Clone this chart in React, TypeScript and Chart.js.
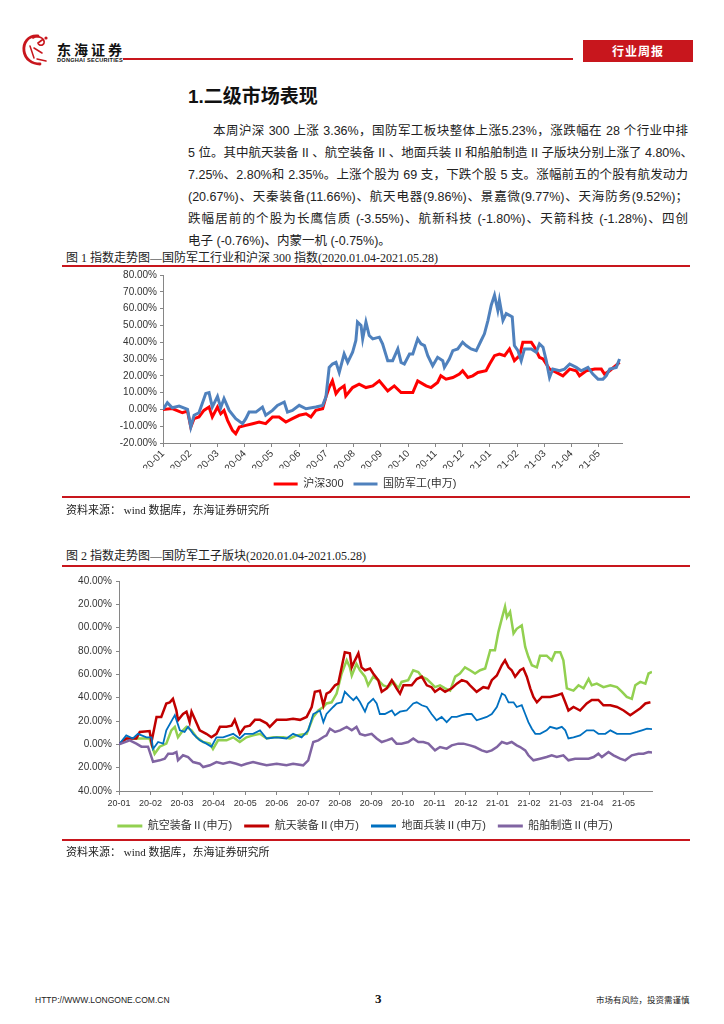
import React, { useEffect, useRef } from "react";
import { Chart, registerables } from "chart.js";

Chart.register(...registerables);

// ---------- tick labels ----------
const monthLabels = [
  "20-01", "20-02", "20-03", "20-04", "20-05", "20-06", "20-07", "20-08", "20-09",
  "20-10", "20-11", "20-12", "21-01", "21-02", "21-03", "21-04", "21-05",
];

// ---------- Figure 1 (x = months since 2020-01-01) ----------
const hs300Months = [0,0.34,0.71,0.9,1.02,1.14,1.32,1.5,1.69,1.81,2.0,2.12,2.24,2.37,2.55,2.67,2.8,3.04,3.29,3.53,3.77,4.02,4.26,4.51,4.75,5.0,5.25,5.43,5.61,5.86,5.98,6.1,6.22,6.35,6.47,6.65,6.71,6.96,7.2,7.45,7.7,7.94,8.25,8.49,8.74,9.17,9.35,9.66,9.84,10.08,10.2,10.39,10.64,10.88,11.0,11.19,11.37,11.56,11.86,11.99,12.17,12.35,12.54,12.72,12.9,13.09,13.21,13.52,13.64,13.82,13.95,14.19,14.44,14.68,14.93,15.17,15.29,15.54,15.85,16.09,16.21,16.4,16.76];
const hs300Values = [0,0.5,-2,-1,-10.5,-5.5,-4.5,-0.6,1.4,-4.5,1.4,-2.6,-0.6,-6.5,-12.5,-14.5,-10.5,-9.5,-8.5,-7.5,-8.5,-4.5,-4.5,-7.5,-5.5,-3.5,-2.6,-4.5,-0.6,0.4,7.3,13,17,9.4,12,14,8,13,15,13,14,17,11,14,10,10,17,14,13,16,20,18,19,21,23,19,20,22,23,27,32,33,32,36,29,32,40,40,37,31,30,24,22,20,24,23,20,23,24,24,21,23,28];

const defenseMonths = [0,0.16,0.34,0.59,0.9,1.02,1.14,1.32,1.57,1.69,1.81,2.0,2.12,2.24,2.43,2.67,2.92,3.04,3.16,3.41,3.65,3.77,4.02,4.2,4.45,4.57,4.75,5.0,5.25,5.61,5.86,5.98,6.1,6.22,6.35,6.47,6.65,6.78,6.96,7.08,7.14,7.27,7.33,7.45,7.57,7.7,7.94,8.06,8.25,8.43,8.62,8.74,8.86,9.05,9.17,9.35,9.47,9.6,9.72,9.9,10.08,10.27,10.33,10.51,10.64,10.82,11.0,11.13,11.31,11.5,11.68,11.8,11.93,12.05,12.17,12.29,12.35,12.48,12.6,12.72,12.82,12.9,13.03,13.15,13.27,13.52,13.7,13.82,13.95,14.07,14.19,14.31,14.56,14.74,14.93,15.17,15.35,15.6,15.78,15.97,16.15,16.27,16.4,16.64,16.76];
const defenseValues = [0,4,1,2,0,-10.5,-3.5,-2,9.5,10,1.4,7.7,1,6.5,-0.6,-5.5,-8.5,-5.5,-1.6,-1.6,1.4,-3.5,-0.6,2.4,4.4,-1.6,-0.6,2.4,0.4,1.4,2.4,7.3,25,27,28,22,33,28,34,41,52,50,42,52,44,42,43,39,29,29,36,28,27,33,33,42,39,38,32,26,31,29,25,30,35,36,40,38,36,35,41,45,53,62,68,59,65,53,57,56,55,38,35,29,36,36,34,39,37,29,19,24,23,24,27,25,23,25,21,18,18,20,24,25,30];

// ---------- Figure 2 ----------
const aeroMonths = [0,0.23,0.55,0.97,1.13,1.29,1.5,1.66,1.77,1.87,2.03,2.14,2.3,2.46,2.67,2.88,2.98,3.14,3.41,3.62,3.83,4.04,4.25,4.47,4.68,4.89,5.21,5.42,5.63,5.95,6.16,6.32,6.48,6.58,6.74,6.9,7.06,7.22,7.32,7.38,7.53,7.64,7.8,7.9,8.06,8.22,8.38,8.54,8.7,8.86,8.96,9.17,9.33,9.49,9.6,9.76,9.91,10.02,10.18,10.34,10.5,10.66,10.81,10.97,11.13,11.29,11.45,11.61,11.77,11.92,12.03,12.14,12.24,12.3,12.4,12.51,12.61,12.77,12.88,12.98,13.09,13.25,13.35,13.56,13.72,13.83,13.99,14.09,14.2,14.41,14.57,14.73,14.89,14.99,15.15,15.36,15.58,15.79,15.95,16.1,16.26,16.37,16.53,16.69,16.79,16.9];
const aeroValues = [0,5,5,5,-8,-2,0.6,12,15,6,12,15,12,6,2,0.6,-4,3.4,3.4,6,2,6,7.7,9,5,6,6,5,7.7,9,23.5,29,32,35,36,43.5,60.7,72,66,59,69,63.5,58,50.6,58,55,50.6,49,53.5,48,53.5,55,63.5,62,58,56,52,49,50.6,48,46,58,60.7,66,63.5,60.7,63.5,65,80.7,80.7,96.4,108,118,109,113.6,95,99,102,83.5,75,67.8,66,76,76,72,79,79,72,48,46,50.6,48,56,50.6,52,49,50.6,49,45,40.6,39,50.6,53.5,52,60.7,62];

const spaceMonths = [0,0.23,0.55,0.66,0.97,1.03,1.19,1.34,1.5,1.61,1.71,1.82,1.87,2.03,2.14,2.24,2.3,2.4,2.56,2.77,2.93,3.09,3.2,3.41,3.57,3.67,3.83,3.99,4.15,4.31,4.47,4.68,4.78,5.0,5.31,5.52,5.74,5.95,6.11,6.21,6.37,6.48,6.58,6.69,6.85,6.95,7.06,7.16,7.32,7.38,7.48,7.59,7.69,7.8,7.96,8.06,8.22,8.33,8.49,8.65,8.8,8.91,9.02,9.28,9.44,9.6,9.76,9.91,10.02,10.18,10.34,10.55,10.71,10.87,11.03,11.13,11.34,11.55,11.71,11.82,11.98,12.14,12.24,12.35,12.45,12.56,12.72,12.82,12.93,13.04,13.14,13.25,13.41,13.67,13.88,14.04,14.15,14.25,14.41,14.62,14.83,14.99,15.2,15.36,15.58,15.79,16.0,16.21,16.37,16.53,16.69,16.85];
const spaceValues = [0,5,5,10.6,11.4,2,23.5,23.5,35,36,39,29,20.6,26,28,19,28,22,12,9,6,9,15,15,16,21,9,15,16,21,21,18,15,21,21,22,21,23.5,32,45,46,33.5,43.5,45,50.6,52,66,79,78,66,72,78,66,63.5,65,60.7,55,45,48,55,48,43.5,50.6,50.6,56,58,50.6,49,45,48,45,48,52,55,53.5,50.6,45,49,48,55,59,68,72,66,63.5,58,63.5,65,58,48,40.6,36,40.6,40.6,42,43.5,36,29,32,29,35,38,38,33.5,33.5,32,29,25,28,31,35,36];

const groundMonths = [0,0.23,0.44,0.6,0.87,1.03,1.08,1.24,1.4,1.5,1.77,1.93,2.08,2.19,2.35,2.56,2.77,2.93,3.09,3.3,3.62,3.83,3.99,4.25,4.47,4.68,5.0,5.31,5.52,5.79,6.0,6.16,6.37,6.48,6.58,6.79,6.9,7.06,7.16,7.32,7.43,7.53,7.64,7.8,7.9,8.06,8.17,8.27,8.43,8.65,8.75,8.91,9.12,9.33,9.44,9.6,9.76,9.91,10.07,10.23,10.39,10.55,10.71,10.87,11.03,11.18,11.34,11.5,11.66,11.82,11.98,12.14,12.24,12.35,12.51,12.61,12.77,12.88,12.98,13.09,13.2,13.35,13.56,13.67,13.88,14.04,14.15,14.25,14.41,14.62,14.83,15.05,15.2,15.42,15.58,15.79,16.0,16.21,16.42,16.58,16.74,16.9];
const groundValues = [0,7.7,5,9,6,6,-4,2,0.6,12,25,12,10.6,15,9,3.4,0.6,-2,6,6,9,5,9,9,12,5,6,5,9,6,12,26,29,19,26,32,35,36,45,40.6,37.8,40.6,36.3,28,35,39,35,26,26,29,25,28,29,35,36,33.5,32,26,20.6,23.5,19,23.5,23.5,25,26,26,20.6,22,23.5,26,32,43.5,42,36,36,32,33.5,26,19,13.4,9,9,12,15,13.4,15,12,5,6,7.7,12,12,9,9,12,9,9,9,10.6,12,13.4,13];

const shipMonths = [0,0.34,0.55,0.71,0.92,1.08,1.29,1.45,1.56,1.71,1.82,1.87,2.03,2.19,2.35,2.56,2.67,2.88,3.09,3.3,3.51,3.72,3.88,4.04,4.25,4.47,4.68,5.0,5.31,5.52,5.84,6.0,6.16,6.32,6.48,6.58,6.69,6.85,7.01,7.22,7.38,7.53,7.64,7.8,8.01,8.17,8.33,8.49,8.65,8.8,8.96,9.17,9.33,9.49,9.65,9.81,10.02,10.18,10.39,10.55,10.76,10.92,11.13,11.29,11.5,11.66,11.82,11.98,12.14,12.3,12.45,12.61,12.72,12.88,12.98,13.14,13.35,13.56,13.72,13.88,14.09,14.25,14.46,14.68,14.89,15.05,15.2,15.31,15.52,15.68,15.89,16.05,16.26,16.47,16.63,16.79,16.9];
const shipValues = [0,3.4,0.6,-2,-2,-15,-13.7,-12.3,-8,-8,-6.6,-13.7,-9.4,-10.9,-15.2,-16.6,-19.5,-18,-15.2,-16.6,-15.2,-16.6,-18,-16.6,-15.2,-16.6,-18,-16.6,-18,-16.6,-18,-13.7,2,3.4,6.3,7.7,13.4,10.6,12,14.9,12,14.9,9,7.7,9,5,2,3.4,5,0.6,0.6,2,5,2,2,0.6,-5.2,-2.3,-3.7,-0.9,0.6,0.6,-0.9,-2.3,-5.2,-6.6,-5.2,-2.3,2,0.6,2,-0.9,-2.3,-5.2,-9.4,-13.7,-12.3,-10.9,-9.4,-10.9,-9.4,-13.7,-12.3,-12.3,-12.3,-10.9,-8,-10.9,-6.6,-9.4,-12.3,-13.7,-9.4,-8,-8,-6.6,-7];

// ---------- text ----------
const paragraphLines = [
  "本周沪深 300 上涨 3.36%，国防军工板块整体上涨5.23%，涨跌幅在 28 个行业中排",
  "5 位。其中航天装备 II 、航空装备 II 、地面兵装 II 和船舶制造 II 子版块分别上涨了 4.80%、",
  "7.25%、2.80%和 2.35%。上涨个股为 69 支，下跌个股 5 支。涨幅前五的个股有航发动力",
  "(20.67%)、天秦装备(11.66%)、航天电器(9.86%)、景嘉微(9.77%)、天海防务(9.52%)；",
  "跌幅居前的个股为长鹰信质 (-3.55%)、航新科技 (-1.80%)、天箭科技 (-1.28%)、四创",
  "电子 (-0.76%)、内蒙一机 (-0.75%)。",
];

const SANS = '"Liberation Sans", Arial, "Noto Sans CJK SC", sans-serif';
const SERIF = '"Liberation Serif", "Noto Sans CJK SC", serif';
const AXIS_COLOR = "#868686";
const TEXT_COLOR = "#333333";

const toPoints = (xs: number[], ys: number[]) => xs.map((x, i) => ({ x, y: ys[i] }));

const monthTick = (v: any) => {
  const n = Number(v);
  const i = Math.round(n);
  return Math.abs(n - i) < 1e-6 && monthLabels[i] ? monthLabels[i] : "";
};

const legendLabels = (chart: any) =>
  (Chart.defaults.plugins.legend.labels as any)
    .generateLabels(chart)
    .map((l: any) => ({ ...l, lineWidth: 0 }));

function ChartCanvas({ top, width, height, build }: { top: number; width: number; height: number; build: () => any }) {
  const ref = useRef<HTMLCanvasElement>(null);
  useEffect(() => {
    const chart = new Chart(ref.current as HTMLCanvasElement, build());
    return () => chart.destroy();
  }, []);
  return (
    <canvas
      ref={ref}
      width={width}
      height={height}
      style={{ position: "absolute", left: 0, top, width, height }}
    />
  );
}

const line = (label: string, xs: number[], ys: number[], color: string, width: number, order: number) => ({
  label,
  data: toPoints(xs, ys),
  borderColor: color,
  backgroundColor: color,
  borderWidth: width,
  pointRadius: 0,
  tension: 0,
  order,
});

function buildChart1() {
  return {
    type: "line",
    data: {
      datasets: [
        line("沪深300", hs300Months, hs300Values, "#FF0000", 3, 2),
        line("国防军工(申万)", defenseMonths, defenseValues, "#4F81BD", 3, 1),
      ],
    },
    options: {
      animation: false,
      responsive: false,
      events: [],
      layout: { padding: { left: 108, right: 102, top: 10, bottom: 0.5 } },
      plugins: {
        tooltip: { enabled: false },
        legend: {
          position: "bottom",
          labels: {
            boxWidth: 24,
            boxHeight: 3,
            padding: 10,
            color: TEXT_COLOR,
            font: { size: 11, family: SANS },
            sort: (a: any, b: any) => a.datasetIndex - b.datasetIndex,
            generateLabels: legendLabels,
          },
        },
      },
      scales: {
        x: {
          type: "linear",
          min: 0,
          max: 16.85,
          afterFit: (s: any) => { s.height = 25.5; },
          ticks: {
            stepSize: 1,
            autoSkip: false,
            includeBounds: false,
            minRotation: 45,
            maxRotation: 45,
            padding: 1,
            color: TEXT_COLOR,
            font: { size: 10, family: SANS },
            callback: monthTick,
          },
          grid: { drawOnChartArea: false, drawTicks: true, tickLength: 4, color: AXIS_COLOR },
          border: { display: true, color: AXIS_COLOR, width: 1 },
        },
        y: {
          min: -20,
          max: 80,
          afterFit: (s: any) => { s.width = 55; },
          ticks: {
            stepSize: 10,
            padding: 3,
            color: TEXT_COLOR,
            font: { size: 10, family: SANS },
            callback: (v: any) => Number(v).toFixed(2) + "%",
          },
          grid: { drawOnChartArea: false, drawTicks: true, tickLength: 3, color: AXIS_COLOR },
          border: { display: true, color: AXIS_COLOR, width: 1 },
        },
      },
    },
  };
}

function buildChart2() {
  return {
    type: "line",
    data: {
      datasets: [
        line("航空装备Ⅱ(申万)", aeroMonths, aeroValues, "#92D050", 2.5, 4),
        line("航天装备Ⅱ(申万)", spaceMonths, spaceValues, "#C00000", 2.5, 3),
        line("地面兵装Ⅱ(申万)", groundMonths, groundValues, "#0070C0", 1.8, 2),
        line("船舶制造Ⅱ(申万)", shipMonths, shipValues, "#8064A2", 2.5, 1),
      ],
    },
    options: {
      animation: false,
      responsive: false,
      events: [],
      layout: { padding: { left: 78, right: 72, top: 11, bottom: 0.5 } },
      plugins: {
        tooltip: { enabled: false },
        legend: {
          position: "bottom",
          labels: {
            boxWidth: 25,
            boxHeight: 3,
            padding: 12,
            color: TEXT_COLOR,
            font: { size: 11, family: SANS },
            sort: (a: any, b: any) => a.datasetIndex - b.datasetIndex,
            generateLabels: legendLabels,
          },
        },
      },
      scales: {
        x: {
          type: "linear",
          min: 0,
          max: 16.9,
          afterFit: (s: any) => { s.height = 17.5; },
          ticks: {
            stepSize: 1,
            autoSkip: false,
            includeBounds: false,
            minRotation: 0,
            maxRotation: 0,
            padding: 3,
            color: TEXT_COLOR,
            font: { size: 9, family: SANS },
            callback: monthTick,
          },
          grid: { drawOnChartArea: false, drawTicks: true, tickLength: 4, color: AXIS_COLOR },
          border: { display: true, color: AXIS_COLOR, width: 1 },
        },
        y: {
          min: -40,
          max: 140,
          afterFit: (s: any) => { s.width = 41; },
          ticks: {
            stepSize: 20,
            padding: 4,
            color: TEXT_COLOR,
            font: { size: 10, family: SANS },
            callback: (v: any) => Number(v).toFixed(2) + "%",
          },
          grid: { drawOnChartArea: false, drawTicks: true, tickLength: 3, color: AXIS_COLOR },
          border: { display: true, color: AXIS_COLOR, width: 1 },
        },
      },
    },
  };
}

const abs = (left: number, top: number, extra: React.CSSProperties = {}): React.CSSProperties => ({
  position: "absolute",
  left,
  top,
  whiteSpace: "nowrap",
  ...extra,
});

const RED = "#C8161D";

export default function App() {
  return (
    <div style={{ position: "absolute", left: 0, top: 0, width: 724, height: 1024, background: "#fff", overflow: "hidden" }}>
      {/* header */}
      <svg style={abs(20, 32)} width={34} height={36} viewBox="0 0 34 36">
        <path d="M18 4 C8 3 3 11 4 19 C5 27 12 32 20 32" stroke={RED} strokeWidth={2.8} fill="none" strokeLinecap="round" />
        <path d="M13 6 C18 3 25 6 24 11 C23 14 19 14 18 11 L22 8" stroke={RED} strokeWidth={1.7} fill="none" strokeLinecap="round" />
        <path d="M10 14 L14 26 M14 16 L22 21 M17 27 L26 29" stroke={RED} strokeWidth={1.5} fill="none" strokeLinecap="round" />
        <circle cx={26} cy={6} r={1.6} fill={RED} />
      </svg>
      <div style={abs(57, 41, { fontFamily: '"Noto Sans CJK SC", sans-serif', fontWeight: 700, fontSize: 14, lineHeight: "16px", letterSpacing: 3, color: "#111" })}>东海证券</div>
      <div style={abs(57, 57, { fontFamily: SANS, fontWeight: 700, fontSize: 5.6, lineHeight: "6px", letterSpacing: 0.25, color: "#111" })}>DONGHAI SECURITIES</div>
      <div style={abs(123, 58, { width: 450, height: 1.5, background: RED })} />
      <div style={abs(583, 40, { width: 110, height: 22, background: RED, color: "#fff", fontFamily: '"Noto Sans CJK SC", sans-serif', fontWeight: 700, fontSize: 12, lineHeight: "22px", textAlign: "center", letterSpacing: 1 })}>行业周报</div>

      {/* section heading */}
      <div style={abs(188, 86, { fontFamily: SANS, fontWeight: 700, fontSize: 19, lineHeight: "22px", color: "#111" })}>1.二级市场表现</div>

      {/* paragraph */}
      {paragraphLines.map((t, i) => {
        const last = i === paragraphLines.length - 1;
        return (
          <div
            key={i}
            style={abs(i === 0 ? 213 : 188, 120 + i * 22, {
              width: i === 0 ? 475 : 500,
              height: 22,
              lineHeight: "22px",
              fontFamily: SANS,
              fontSize: 12.5,
              color: "#222",
              textAlign: last ? "left" : "justify",
              textAlignLast: last ? "left" : "justify",
            } as React.CSSProperties)}
          >
            {t}
          </div>
        );
      })}

      {/* figure 1 */}
      <div style={abs(66, 250, { fontFamily: SERIF, fontSize: 12, lineHeight: "16px", color: "#222" })}>
        图 1 指数走势图—国防军工行业和沪深 300 指数(2020.01.04-2021.05.28)
      </div>
      <div style={abs(62, 265, { width: 628, height: 2, background: RED })} />
      <ChartCanvas top={265} width={724} height={235} build={buildChart1} />
      <div style={abs(62, 496, { width: 628, height: 2, background: RED })} />
      <div style={abs(66, 503, { fontFamily: SERIF, fontSize: 11, lineHeight: "14px", color: "#222" })}>
        资料来源：  wind 数据库，东海证券研究所
      </div>

      {/* figure 2 */}
      <div style={abs(66, 548, { fontFamily: SERIF, fontSize: 12, lineHeight: "16px", color: "#222" })}>
        图 2 指数走势图—国防军工子版块(2020.01.04-2021.05.28)
      </div>
      <div style={abs(62, 565, { width: 628, height: 2, background: RED })} />
      <ChartCanvas top={570} width={724} height={272} build={buildChart2} />
      <div style={abs(62, 839, { width: 628, height: 2, background: RED })} />
      <div style={abs(66, 845, { fontFamily: SERIF, fontSize: 11, lineHeight: "14px", color: "#222" })}>
        资料来源：  wind 数据库，东海证券研究所
      </div>

      {/* footer */}
      <div style={abs(35, 994, { fontFamily: SANS, fontSize: 8.5, lineHeight: "12px", color: "#222" })}>HTTP://WWW.LONGONE.COM.CN</div>
      <div style={abs(375, 992, { fontFamily: SERIF, fontWeight: 700, fontSize: 13, lineHeight: "14px", color: "#111" })}>3</div>
      <div style={abs(596, 994, { fontFamily: SERIF, fontSize: 8.5, lineHeight: "12px", color: "#222" })}>市场有风险，投资需谨慎</div>
    </div>
  );
}
